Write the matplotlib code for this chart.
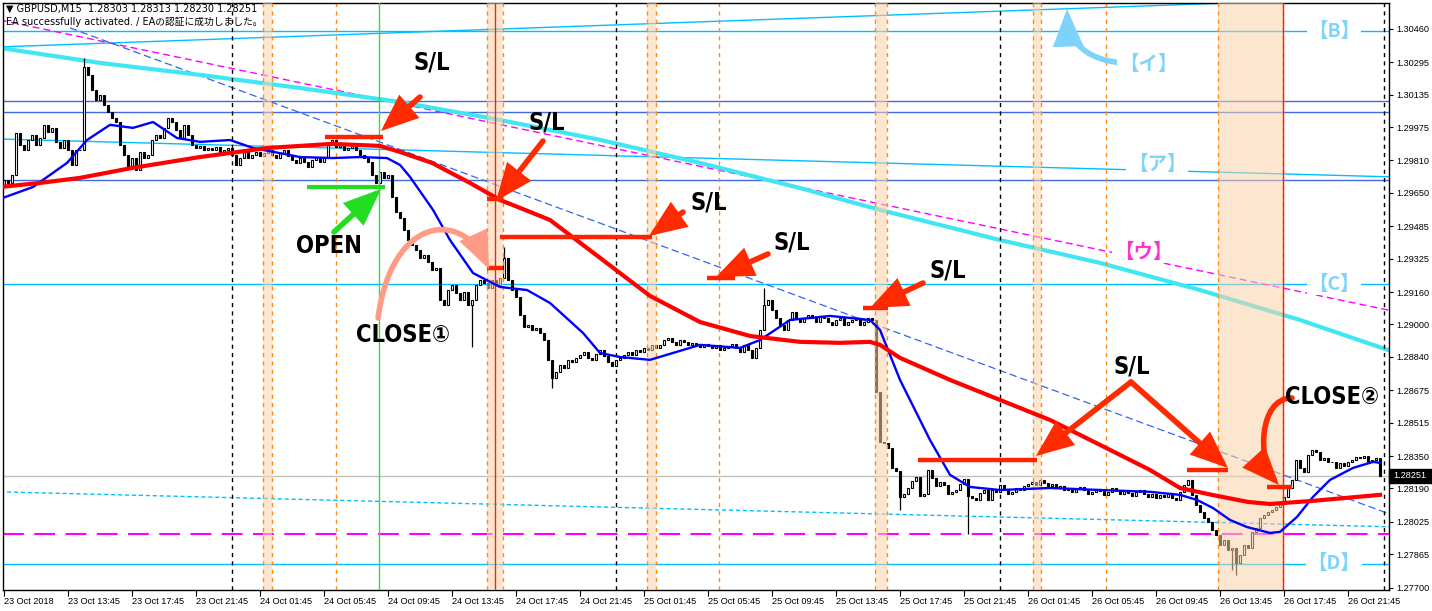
import numpy as np
import matplotlib.pyplot as plt
from matplotlib.patches import FancyArrowPatch, Rectangle
from matplotlib.path import Path
from matplotlib import font_manager

# GBPUSD M15 closes, price x 100000 (bar 0 = 23 Oct 09:45)
close_pts = [
    129714, 129699, 129739, 129946, 129887, 129862, 129911, 129936, 129887, 129921,
    129986, 129951, 129971, 129902, 129872, 129911, 129862, 129788, 129862, 129862,
    130272, 130233, 130158, 130109, 130134, 130084, 130050, 130020, 130000, 129887,
    129837, 129773, 129822, 129763, 129852, 129822, 129837, 129911, 129936, 129921,
    129971, 130020, 130000, 129961, 129921, 129986, 129936, 129887, 129872, 129882,
    129862, 129872, 129862, 129877, 129852, 129862, 129872, 129837, 129788, 129822,
    129862, 129822, 129837, 129852, 129832, 129847, 129862, 129837, 129822, 129847,
    129862, 129832, 129813, 129798, 129822, 129803, 129778, 129813, 129827, 129803,
    129822, 129887, 129911, 129877, 129887, 129862, 129872, 129882, 129862, 129837,
    129822, 129803, 129739, 129699, 129753, 129724, 129739, 129630, 129556, 129526,
    129467, 129417, 129393, 129368, 129329, 129343, 129309, 129269, 129279, 129121,
    129096, 129170, 129195, 129156, 129121, 129161, 129096, 129121, 129195, 129220,
    129205, 129180, 129220, 129195, 129230, 129329, 129220, 129170, 129136, 129047,
    128988, 128998, 128973, 128983, 128958, 128923, 128825, 128736, 128765, 128800,
    128785, 128825, 128815, 128835, 128849, 128864, 128835, 128825, 128854, 128874,
    128844, 128815, 128795, 128825, 128835, 128849, 128864, 128849, 128874, 128864,
    128884, 128874, 128899, 128884, 128899, 128923, 128933, 128914, 128899, 128923,
    128914, 128899, 128909, 128899, 128889, 128904, 128894, 128884, 128899, 128874,
    128884, 128894, 128904, 128884, 128864, 128899, 128874, 128835, 128884, 128973,
    129096, 129121, 129072, 129032, 128998, 128973, 129022, 129062, 129032, 129012,
    129032, 129047, 129032, 129012, 129042, 129032, 129012, 128998, 129022, 129032,
    128998, 129012, 129022, 129032, 128998, 129012, 129032, 129022, 128667, 128420,
    128415, 128390, 128291, 128276, 128148, 128163, 128192, 128227, 128247, 128153,
    128163, 128281, 128242, 128202, 128222, 128207, 128163, 128173, 128182, 128212,
    128237, 128153, 128143, 128133, 128168, 128182, 128133, 128182, 128173, 128207,
    128182, 128163, 128173, 128192, 128182, 128202, 128212, 128222, 128207, 128232,
    128217, 128202, 128212, 128192, 128202, 128182, 128192, 128173, 128187, 128197,
    128182, 128163, 128173, 128187, 128177, 128158, 128173, 128192, 128177, 128163,
    128182, 128168, 128153, 128173, 128182, 128163, 128148, 128163, 128143, 128158,
    128148, 128168, 128143, 128133, 128173, 128207, 128232, 128158, 128108, 128074,
    128044, 128024, 127985, 127960, 127911, 127935, 127886, 127896, 127822, 127861,
    127911, 127896, 127975, 127995, 128044, 128059, 128074, 128084, 128098, 128118,
    128148, 128192, 128232, 128331, 128291, 128271, 128355, 128380, 128370, 128331,
    128341, 128321, 128321, 128291, 128316, 128301, 128321, 128331, 128345, 128341,
    128350, 128321, 128331, 128341, 128252,
]
first_open = 129680
# long wicks that stick out
high_pts = {20: 130317, 125: 129383, 190: 129180}
low_pts = {117: 128889, 137: 128686, 224: 128084, 241: 127965, 307: 127787, 308: 127763}

# moving averages (bar, price x 100000)
blue_ma_x = [-1, 7.25, 15.75, 20.75, 26.5, 32.25, 37.25, 43.25, 49, 56.5, 62.25, 74, 82.25, 89, 95.75,
             99, 101.5, 107.25, 111.5, 117.25, 124, 130.75, 136.5, 144.75, 149, 154, 161.5, 174, 184,
             189, 196.5, 206.5, 216.5, 219, 224, 231.5, 236.5, 241.5, 249, 261.5, 274, 286.5, 294,
             298.25, 302.25, 306.5, 310.75, 316.5, 319, 323.25, 327.25, 331.5, 337.25, 342.25, 344]
blue_ma_y = [129620, 129679, 129798, 129911, 129986, 129971, 130000, 129921, 129902, 129911, 129872,
             129827, 129822, 129827, 129822, 129788, 129729, 129566, 129417, 129254, 129185, 129170,
             129106, 128958, 128859, 128839, 128825, 128899, 128884, 128923, 129022, 129042, 129022,
             128973, 128726, 128429, 128257, 128197, 128182, 128192, 128182, 128173, 128158, 128133,
             128093, 128034, 127999, 127970, 127975, 128049, 128148, 128232, 128291, 128321, 128316]
red_ma_x = [-1, 9, 19, 32, 49, 66, 82, 94, 99, 107, 116.5, 124, 131.5, 136.5, 149, 161.5, 174, 186.5,
            199, 209, 216.5, 219, 224, 236.5, 249, 261.5, 274, 286.5, 294, 302, 311, 316.5, 327, 344]
red_ma_y = [129679, 129699, 129724, 129773, 129827, 129872, 129892, 129882, 129852, 129798, 129699,
            129615, 129556, 129516, 129329, 129141, 129012, 128943, 128914, 128909, 128914, 128899,
            128835, 128726, 128627, 128528, 128405, 128281, 128192, 128158, 128123, 128113, 128128, 128158]
aqua_x = [-1, 24, 49, 74, 99, 124, 149, 174, 199, 219, 249, 274, 299, 324, 346]
aqua_y = [130366, 130292, 130233, 130168, 130099, 130010, 129912, 129798, 129674, 129566, 129417,
          129304, 129170, 129022, 128874]

time_labels = ['23 Oct 2018', '23 Oct 13:45', '23 Oct 17:45', '23 Oct 21:45', '24 Oct 01:45',
               '24 Oct 05:45', '24 Oct 09:45', '24 Oct 13:45', '24 Oct 17:45', '24 Oct 21:45',
               '25 Oct 01:45', '25 Oct 05:45', '25 Oct 09:45', '25 Oct 13:45', '25 Oct 17:45',
               '25 Oct 21:45', '26 Oct 01:45', '26 Oct 05:45', '26 Oct 09:45', '26 Oct 13:45',
               '26 Oct 17:45', '26 Oct 21:45']
price_ticks = ['1.30460', '1.30295', '1.30135', '1.29975', '1.29810', '1.29650', '1.29485', '1.29325',
               '1.29160', '1.29000', '1.28840', '1.28675', '1.28515', '1.28350', '1.28190', '1.28025',
               '1.27865', '1.27700']
last_price = 1.28251

# vertical markers (bar positions)
day_sep = [57, 153, 249, 345]
orange_marks = [83, 178.75, 275.5]
bands = [(64.75, 67), (120.75, 124.75), (160.75, 163), (217.75, 220.75), (257.25, 259.25), (303.5, 319.75)]

c = np.array(close_pts) / 1e5
o = np.r_[first_open / 1e5, c[:-1]]
hi = np.maximum(o, c)
lo = np.minimum(o, c)
for k, v in high_pts.items():
    hi[k] = v / 1e5
for k, v in low_pts.items():
    lo[k] = v / 1e5
idx = np.arange(len(c))

fig = plt.figure(figsize=(14.32, 6.11), dpi=100)
ax = fig.add_axes([3 / 1432, 21 / 611, 1386 / 1432, 587 / 611])
ax.set_xlim(-0.25, 346.25)
ax.set_ylim(1.27688, 1.30588)

# horizontal / trend lines
for p in [1.30104, 1.30050, 1.29714]:
    ax.axhline(p, color='#4169E1', lw=1, zorder=1)
for p in [1.30450, 1.29200, 1.27817]:
    ax.axhline(p, color='#00BFFF', lw=1, zorder=1)
ax.axhline(last_price, color='#C0C0C0', lw=1, zorder=1)
ax.axhline(1.27965, color='#FF00FF', lw=1.5, dashes=(10, 5), zorder=1)
ax.plot([-1, 306], [1.30371, 1.30588], color='#00BFFF', lw=1, zorder=1)
ax.plot([-1, 347], [1.29916, 1.29729], color='#00BFFF', lw=1, zorder=1)
ax.plot([-1, 347], [1.28173, 1.28000], color='#00BFFF', lw=1, dashes=(3, 2), zorder=1)
ax.plot([-1, 347], [1.30504, 1.29067], color='#FF00FF', lw=1, dashes=(5, 3), zorder=1)
ax.plot([16.5, 347], [1.30465, 1.28059], color='#3366EE', lw=0.9, dashes=(6, 3), zorder=1)
ax.plot(np.array(aqua_x), np.array(aqua_y) / 1e5, color='#40E6F2', lw=3, zorder=1)

for d in day_sep:
    ax.axvline(d, color='black', lw=1, dashes=(3, 3), zorder=1)
for d in orange_marks:
    ax.axvline(d, color='#FF8C1A', lw=1, dashes=(3, 3), zorder=1)

# candles
ax.vlines(idx, lo, hi, color='black', lw=0.9, zorder=2)
up = c >= o
ax.bar(idx[up], (c - o)[up], bottom=o[up], width=0.7, color='white', edgecolor='black', lw=0.8, zorder=2)
ax.bar(idx[~up], (c - o)[~up], bottom=o[~up], width=0.7, color='black', edgecolor='black', lw=0.8, zorder=2)

for a, b in bands:
    ax.axvspan(a, b, color='#FAD3AA', alpha=0.55, lw=0, zorder=3)
    ax.axvline(a, color='#FF8C1A', lw=1, dashes=(3, 3), zorder=3)
    ax.axvline(b, color='#FF8C1A', lw=1, dashes=(3, 3), zorder=3)
ax.axvline(93.75, color='#33DD33', lw=1, zorder=3)
ax.axvline(122.75, color='#FF2200', lw=1, zorder=3)
ax.axvline(319.75, color='#FF2200', lw=1, zorder=3)

ax.plot(blue_ma_x, np.array(blue_ma_y) / 1e5, color='#0000FF', lw=1.7, zorder=4)
ax.plot(red_ma_x, np.array(red_ma_y) / 1e5, color='#FF0000', lw=3, zorder=4)

# S/L and entry levels
sl_segments = [(80.25, 94.75, 1.29926), (120.75, 124.75, 1.29620), (124, 162, 1.29432),
               (120.75, 124.75, 1.29279), (175.75, 182.75, 1.29230), (214.75, 221, 1.29082),
               (228.5, 258.25, 1.28331), (295.75, 306, 1.28281), (315.75, 322, 1.28197)]
for a, b, p in sl_segments:
    ax.plot([a, b], [p, p], color='#FF2200', lw=3.2, solid_capstyle='butt', zorder=5)
ax.plot([75.75, 95.25], [1.29679, 1.29679], color='#22DD22', lw=3, solid_capstyle='butt', zorder=5)

# axes styling
for s in ax.spines.values():
    s.set_color('black')
    s.set_linewidth(1)
ax.yaxis.tick_right()
ax.set_yticks([float(t) for t in price_ticks])
ax.set_yticklabels(price_ticks)
ax.set_xticks(np.arange(0, 337, 16))
ax.set_xticklabels(time_labels)
ax.tick_params(axis='y', length=3, width=0.8, pad=2, labelsize=6.6)
ax.tick_params(axis='x', length=4, width=0.8, pad=1, labelsize=6.6)
for t in ax.get_xticklabels() + ax.get_yticklabels():
    t.set_fontfamily('Liberation Sans')
for t in ax.get_xticklabels():
    t.set_horizontalalignment('left')

# overlay in pixel coordinates for labels and arrows
ov = fig.add_axes([0, 0, 1, 1], zorder=10)
ov.set_xlim(0, 1432)
ov.set_ylim(611, 0)
ov.axis('off')
ov.patch.set_alpha(0)

ov.add_patch(Rectangle((1389, 469), 43, 14, color='black'))
ov.text(1393, 476, '1.28251', color='white', fontsize=6.6, family='Liberation Sans', va='center')

ov.text(6, 9, '\u25bc GBPUSD,M15  1.28303 1.28313 1.28230 1.28251', fontsize=7, va='center',
        family=['DejaVu Sans', 'Noto Sans CJK JP'])
ov.text(6, 22, 'EA successfully activated. / EAの認証に成功しました。', fontsize=7, va='center',
        family=['DejaVu Sans', 'Noto Sans CJK JP'])

RED = '#FF2A00'
ast = '-|>,head_length=1.1,head_width=0.45'


def arrow(p0, p1, color, verts=None, lw=4):
    if verts is None:
        a = FancyArrowPatch(p0, p1, arrowstyle=ast, mutation_scale=18, lw=lw, color=color,
                            shrinkA=0, shrinkB=0, joinstyle='miter')
    else:
        codes = [Path.MOVETO, Path.CURVE4, Path.CURVE4, Path.CURVE4]
        a = FancyArrowPatch(path=Path(verts, codes), arrowstyle=ast, mutation_scale=18, lw=lw,
                            color=color, joinstyle='miter')
    ov.add_patch(a)


arrow((420, 97), (381, 131), RED)
arrow((543, 141), (496, 201), RED)
arrow((683, 212), (649, 236), RED)
arrow((768, 254), (716, 277), RED)
arrow((923, 283), (870, 308), RED)
arrow((1131, 382), (1036, 456), RED)
arrow((1131, 382), (1228, 468), RED)
arrow(None, None, RED, verts=[(1292, 398), (1258, 398), (1258, 462), (1279, 485)])
arrow((334, 232), (381, 189), '#22DD22')
arrow(None, None, '#FF9B85', verts=[(378, 318), (392, 215), (462, 210), (489, 269)])
arrow(None, None, '#7DD3FA', verts=[(1128, 63), (1085, 62), (1068, 40), (1067, 9)])

# condensed bold face for the trade notes if the system has one
cond = [f.name for f in font_manager.fontManager.ttflist if f.stretch in ('condensed', 'semi-condensed')
        and f.weight in ('bold', 700) and f.name.startswith(('DejaVu', 'Liberation', 'Roboto', 'Open Sans', 'Noto Sans'))]
note_family = [cond[0]] if cond else ['DejaVu Sans']
note_size = 17 if cond else 15
bold = dict(fontsize=note_size, fontweight='bold', fontstretch='condensed', ha='center', va='center',
            family=note_family + ['DejaVu Sans', 'Noto Sans CJK JP'])
for x, y in [(432, 62), (547, 122), (709, 202), (792, 242), (948, 270), (1132, 366)]:
    ov.text(x, y, 'S/L', **bold)
ov.text(329, 246, 'OPEN', **bold)
ov.text(403, 335, 'CLOSE①', **bold)
ov.text(1332, 397, 'CLOSE②', **bold)

lab = dict(fontsize=14, fontweight='bold', ha='center', va='center', family=['Noto Sans CJK JP'],
           bbox=dict(facecolor='white', edgecolor='none', pad=1))
for x, y, s in [(1334, 31, '【B】'), (1148, 64, '【イ】'), (1157, 164, '【ア】'),
                (1334, 284, '【C】'), (1334, 563, '【D】')]:
    ov.text(x, y, s, color='#7ED4FA', **lab)
ov.text(1143, 252, '【ウ】', color='#FF33CC', **lab)

fig.savefig('out.png', dpi=100)
